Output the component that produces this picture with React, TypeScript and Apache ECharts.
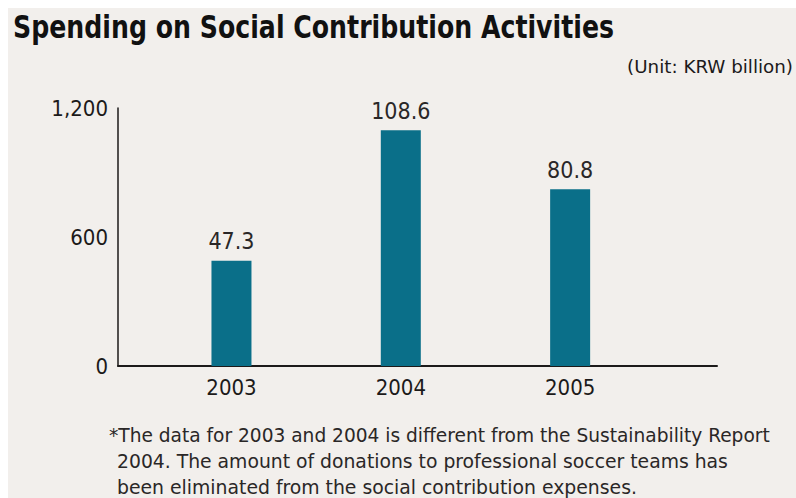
import React, { useEffect, useRef } from "react";
import * as echarts from "echarts";

const categories = ["2003", "2004", "2005"];
const barValues = [490, 1097, 822];
const barLabels = ["47.3", "108.6", "80.8"];
const yMin = 0;
const yMax = 1200;
const yInterval = 600;
const titleText = "Spending on Social Contribution Activities";
const unitText = "(Unit: KRW billion)";
const noteLines = [
  "*The data for 2003 and 2004 is different from the Sustainability Report",
  "2004. The amount of donations to professional soccer teams has",
  "been eliminated from the social contribution expenses.",
];

const FAMILY = "'Liberation Sans Narrow', 'DejaVu Sans Condensed', 'Roboto', sans-serif";
const BG = "#f2efec";
const INK = "#1c1a1a";
const BAR = "#0a6f89";

function measure(text: string, font: string): number {
  const ctx = document.createElement("canvas").getContext("2d");
  if (!ctx) return 1;
  ctx.font = font;
  return ctx.measureText(text).width || 1;
}

function scaledText(
  text: string,
  x: number,
  y: number,
  size: number,
  weight: string,
  targetWidth: number,
  align: string,
  color: string
) {
  const font = `${weight} ${size}px ${FAMILY}`;
  const sx = targetWidth / measure(text, font);
  return {
    type: "text",
    x,
    y,
    scaleX: sx,
    scaleY: 1,
    style: {
      text,
      x: 0,
      y: 0,
      fill: color,
      font,
      textAlign: align,
      textVerticalAlign: "middle",
    },
  };
}

export default function App() {
  const ref = useRef<HTMLDivElement>(null);
  useEffect(() => {
    if (!ref.current) return;
    const chart = echarts.init(ref.current, undefined, { renderer: "svg" });
    const top = 100;
    const bottom = 132;
    chart.setOption({
      animation: false,
      backgroundColor: BG,
      grid: [
        { left: 110, right: 79, top, bottom },
        { left: 138.8, width: 508, top, bottom },
      ],
      xAxis: [
        {
          gridIndex: 0,
          type: "category",
          data: [""],
          axisLine: { show: true, lineStyle: { color: INK, width: 2 } },
          axisTick: { show: false },
          axisLabel: { show: false },
          splitLine: { show: false },
        },
        {
          gridIndex: 1,
          type: "category",
          data: categories,
          axisLine: { show: false },
          axisTick: { show: false },
          splitLine: { show: false },
          axisLabel: {
            color: INK,
            fontFamily: FAMILY,
            fontSize: 22,
            margin: 10,
          },
        },
      ],
      yAxis: [
        {
          gridIndex: 0,
          type: "value",
          min: yMin,
          max: yMax,
          interval: yInterval,
          axisLine: { show: true, lineStyle: { color: INK, width: 1.5 } },
          axisTick: { show: false },
          splitLine: { show: false },
          axisLabel: {
            color: INK,
            fontFamily: FAMILY,
            fontSize: 22,
            margin: 10,
            formatter: (v: number) => v.toLocaleString("en-US"),
          },
        },
        {
          gridIndex: 1,
          type: "value",
          min: yMin,
          max: yMax,
          show: false,
          splitLine: { show: false },
        },
      ],
      series: [
        {
          type: "bar",
          xAxisIndex: 1,
          yAxisIndex: 1,
          data: barValues,
          barWidth: 40,
          itemStyle: { color: BAR },
          label: {
            show: true,
            position: "top",
            distance: 8,
            color: "#2a2727",
            fontFamily: FAMILY,
            fontSize: 23,
            formatter: (p: any) => barLabels[p.dataIndex],
          },
        },
      ],
      graphic: [
        scaledText(titleText, 5, 19, 32, "bold", 601, "left", "#111"),
        scaledText(unitText, 785, 58.5, 18, "normal", 166, "right", INK),
        scaledText(noteLines[0], 101, 427, 20, "normal", 661, "left", "#2a2727"),
        scaledText(noteLines[1], 109, 453, 20, "normal", 611, "left", "#2a2727"),
        scaledText(noteLines[2], 109, 479, 20, "normal", 520, "left", "#2a2727"),
      ],
    });
    return () => chart.dispose();
  }, []);
  return (
    <div
      style={{
        position: "fixed",
        left: 0,
        top: 0,
        width: 796,
        height: 498,
        background: "#ffffff",
        overflow: "hidden",
      }}
    >
      <div
        ref={ref}
        style={{ position: "absolute", left: 8, top: 8, width: 788, height: 490 }}
      />
    </div>
  );
}
